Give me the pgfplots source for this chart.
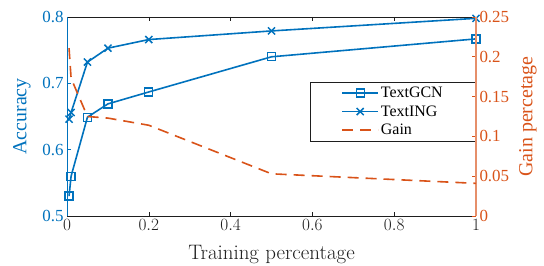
\documentclass[border=0pt]{standalone}
\usepackage{pgfplots}
\pgfplotsset{compat=1.18}
\usepackage{fontspec}
\setmainfont{Liberation Serif}
\definecolor{mblue}{RGB}{0,114,189}
\definecolor{morange}{RGB}{217,83,25}
\definecolor{mgray}{RGB}{30,30,30}
\begin{document}
\begin{tikzpicture}
\begin{axis}[
  width=409bp, height=199bp, scale only axis,
  xmin=0, xmax=1, ymin=0.5, ymax=0.8,
  axis x line*=box, axis y line*=left,
  x axis line style={mgray, line width=0.7bp},
  y axis line style={mblue, line width=0.9bp},
  xtick={0,0.2,0.4,0.6,0.8,1},
  xticklabels={$0$,$0.2$,$0.4$,$0.6$,$0.8$,$1$},
  ytick={0.5,0.6,0.7,0.8},
  yticklabels={0.5,0.6,0.7,0.8},
  tick align=inside, major tick length=4bp,
  xtick style={mgray, line width=0.6bp},
  ytick style={mblue, line width=0.6bp},
  xticklabel style={font=\fontsize{19}{22}\selectfont, text=mgray},
  yticklabel style={font=\fontsize{17}{20}\selectfont, text=mblue},
  xlabel={\fontfamily{lmr}\selectfont Training percentage},
  xlabel style={font=\fontsize{21}{24}\selectfont, text=mgray,
    at={(axis description cs:0.5,-0.221)}, anchor=base},
  ylabel={Accuracy},
  ylabel style={font=\fontsize{20}{23}\selectfont, text=mblue,
    at={(axis description cs:-0.110,0.5)}, anchor=center},
  legend style={at={(1,0.525)}, anchor=east, draw=mgray, fill=white,
    font=\fontsize{16}{19}\selectfont, inner xsep=31bp, inner ysep=3bp,
    row sep=2.5bp, line width=0.6bp},
  legend cell align=left,
  legend image code/.code={\draw[mark repeat=2,mark phase=2,#1] plot coordinates {(0bp,0bp) (18bp,0bp) (36bp,0bp)};},
]
\addplot[mblue, line width=1.6bp, mark=square, mark size=4bp, mark options={solid, line width=1.3bp}]
  coordinates {(0.005,0.530) (0.01,0.560) (0.05,0.649) (0.1,0.669) (0.2,0.687) (0.5,0.740) (1,0.767)};
\addlegendentry{TextGCN}
\addplot[mblue, line width=1.6bp, mark=x, mark size=5bp, mark options={solid, line width=1.5bp}]
  coordinates {(0.005,0.646) (0.01,0.656) (0.05,0.732) (0.1,0.753) (0.2,0.766) (0.5,0.779) (1,0.798)};
\addlegendentry{TextING}
\addlegendimage{morange, line width=1.6bp, dash pattern=on 11bp off 7bp}
\addlegendentry{Gain}
\end{axis}
\begin{axis}[
  width=409bp, height=199bp, scale only axis,
  xmin=0, xmax=1, ymin=0, ymax=0.25,
  axis x line=none, axis y line*=right,
  y axis line style={morange!65, line width=1.1bp},
  ytick={0,0.05,0.1,0.15,0.2,0.25},
  yticklabels={0,0.05,0.1,0.15,0.2,0.25},
  tick align=inside, major tick length=4bp,
  ytick style={morange, line width=0.6bp},
  yticklabel style={font=\fontsize{17}{20}\selectfont, text=morange},
  ylabel={Gain percetage},
  ylabel style={font=\fontsize{20}{23}\selectfont, text=morange,
    at={(axis description cs:1.127,0.5)}, anchor=center},
]
\addplot[morange, line width=1.6bp, dash pattern=on 11bp off 7bp]
  coordinates {(0.005,0.211) (0.01,0.173) (0.05,0.125) (0.1,0.123) (0.2,0.114) (0.5,0.053) (1,0.041)};
\end{axis}
\pgfresetboundingbox
\path ([xshift=-67bp,yshift=-50bp]current axis.south west) rectangle ([xshift=68bp,yshift=17bp]current axis.north east);
\end{tikzpicture}
\end{document}
